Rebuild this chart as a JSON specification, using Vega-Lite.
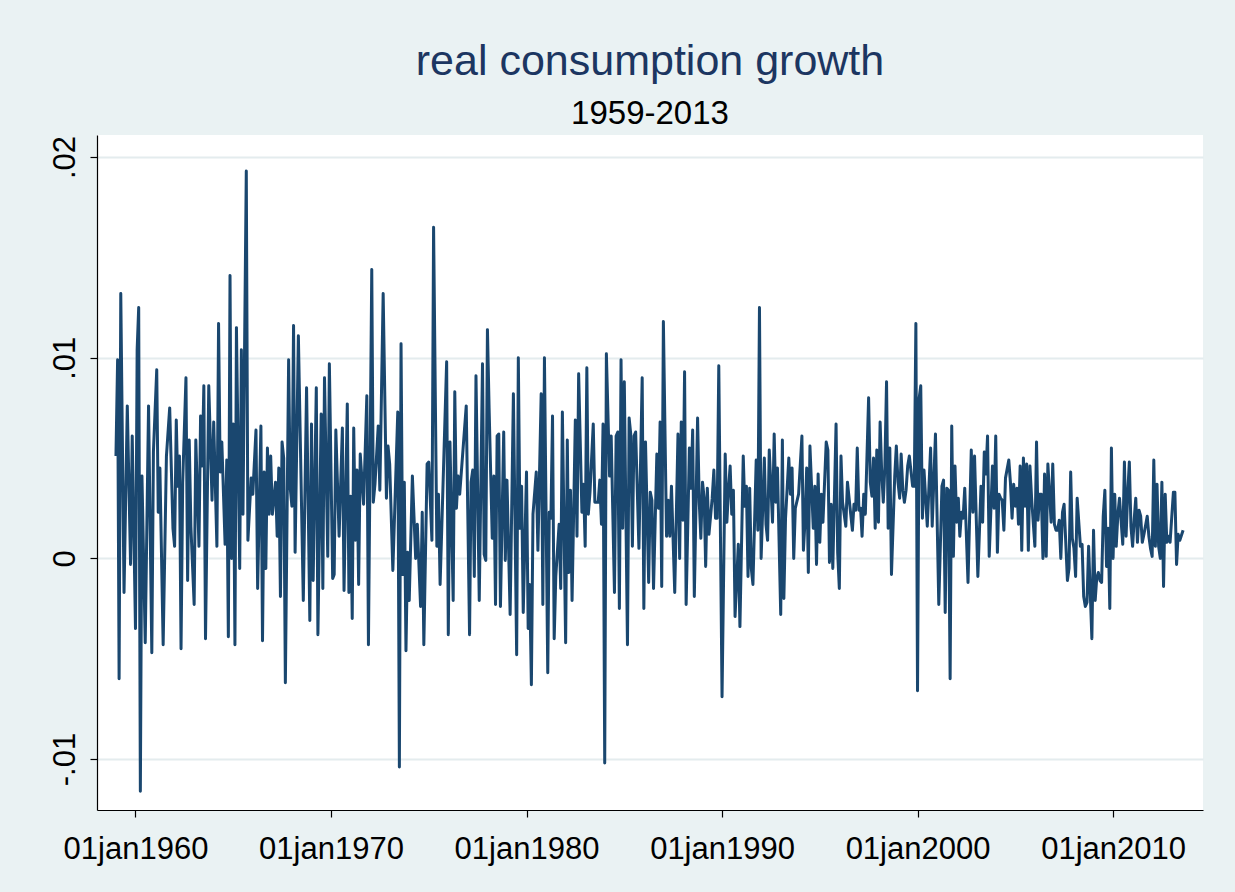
{
"$schema": "https://vega.github.io/schema/vega-lite/v6.json",
"width": 1106, "height": 675,
"autosize": "none",
"padding": {"left": 97, "top": 135, "right": 32, "bottom": 82},
"background": "#EAF2F3",
"view": {"fill": "white", "stroke": null},
"title": {"text": "real consumption growth", "subtitle": "1959-2013", "font": "Liberation Sans", "subtitleFont": "Liberation Sans", "fontSize": 43, "subtitleFontSize": 33, "fontWeight": "normal", "subtitleFontWeight": "normal", "color": "#1C3661", "subtitleColor": "#000000", "anchor": "middle", "offset": 4, "subtitlePadding": 14},
"data": {"values": [
{"d":"1959-01","v":0.0051},{"d":"1959-02","v":0.0099},{"d":"1959-03","v":-0.0060},{"d":"1959-04","v":0.0132},{"d":"1959-06","v":-0.0017},{"d":"1959-08","v":0.0076},{"d":"1959-10","v":-0.0003},{"d":"1959-11","v":0.0061},
{"d":"1960-01","v":-0.0035},{"d":"1960-02","v":0.0104},{"d":"1960-03","v":0.0125},{"d":"1960-04","v":-0.0116},{"d":"1960-05","v":0.0041},{"d":"1960-07","v":-0.0042},{"d":"1960-09","v":0.0076},{"d":"1960-11","v":-0.0047},{"d":"1960-12","v":0.0053},
{"d":"1961-02","v":0.0094},{"d":"1961-03","v":0.0023},{"d":"1961-04","v":0.0045},{"d":"1961-06","v":-0.0043},{"d":"1961-08","v":0.0051},{"d":"1961-10","v":0.0075},{"d":"1961-12","v":0.0015},
{"d":"1962-01","v":0.0006},{"d":"1962-02","v":0.0069},{"d":"1962-03","v":0.0036},{"d":"1962-04","v":0.0051},{"d":"1962-05","v":-0.0045},{"d":"1962-06","v":0.0038},{"d":"1962-08","v":0.0090},{"d":"1962-09","v":-0.0011},{"d":"1962-10","v":0.0059},{"d":"1962-11","v":0.0016},
{"d":"1963-01","v":-0.0023},{"d":"1963-02","v":0.0059},{"d":"1963-04","v":0.0006},{"d":"1963-05","v":0.0071},{"d":"1963-06","v":0.0046},{"d":"1963-07","v":0.0086},{"d":"1963-08","v":-0.0040},{"d":"1963-10","v":0.0086},{"d":"1963-12","v":0.0029},
{"d":"1964-01","v":0.0068},{"d":"1964-03","v":0.0006},{"d":"1964-04","v":0.0117},{"d":"1964-05","v":0.0043},{"d":"1964-06","v":0.0058},{"d":"1964-08","v":0.0007},{"d":"1964-09","v":0.0049},{"d":"1964-10","v":-0.0039},{"d":"1964-11","v":0.0141},{"d":"1964-12","v":0.0000},
{"d":"1965-01","v":0.0067},{"d":"1965-02","v":-0.0043},{"d":"1965-03","v":0.0115},{"d":"1965-05","v":-0.0005},{"d":"1965-06","v":0.0104},{"d":"1965-07","v":0.0022},{"d":"1965-09","v":0.0193},{"d":"1965-10","v":0.0009},{"d":"1965-12","v":0.0040},
{"d":"1966-01","v":0.0032},{"d":"1966-03","v":0.0064},{"d":"1966-04","v":-0.0015},{"d":"1966-06","v":0.0066},{"d":"1966-07","v":-0.0041},{"d":"1966-08","v":0.0043},{"d":"1966-09","v":-0.0005},{"d":"1966-10","v":0.0055},{"d":"1966-11","v":0.0022},{"d":"1966-12","v":0.0051},
{"d":"1967-01","v":0.0022},{"d":"1967-03","v":0.0038},{"d":"1967-04","v":0.0011},{"d":"1967-05","v":0.0045},{"d":"1967-06","v":-0.0019},{"d":"1967-07","v":0.0058},{"d":"1967-08","v":0.0050},{"d":"1967-09","v":-0.0062},{"d":"1967-11","v":0.0099},{"d":"1967-12","v":0.0035},
{"d":"1968-01","v":0.0026},{"d":"1968-02","v":0.0116},{"d":"1968-03","v":0.0003},{"d":"1968-05","v":0.0111},{"d":"1968-08","v":-0.0021},{"d":"1968-10","v":0.0085},{"d":"1968-12","v":-0.0031},
{"d":"1969-01","v":0.0067},{"d":"1969-02","v":-0.0011},{"d":"1969-04","v":0.0085},{"d":"1969-05","v":-0.0038},{"d":"1969-07","v":0.0072},{"d":"1969-08","v":-0.0015},{"d":"1969-09","v":0.0090},{"d":"1969-11","v":0.0001},{"d":"1969-12","v":0.0097},
{"d":"1970-02","v":-0.0010},{"d":"1970-03","v":-0.0008},{"d":"1970-04","v":0.0064},{"d":"1970-06","v":0.0011},{"d":"1970-08","v":0.0065},{"d":"1970-09","v":-0.0016},{"d":"1970-11","v":0.0077},{"d":"1970-12","v":-0.0017},
{"d":"1971-01","v":0.0031},{"d":"1971-02","v":-0.0030},{"d":"1971-03","v":0.0065},{"d":"1971-04","v":0.0009},{"d":"1971-05","v":0.0044},{"d":"1971-06","v":-0.0013},{"d":"1971-07","v":0.0052},{"d":"1971-09","v":0.0027},{"d":"1971-11","v":0.0081},{"d":"1971-12","v":-0.0043},
{"d":"1972-02","v":0.0144},{"d":"1972-03","v":0.0028},{"d":"1972-04","v":0.0037},{"d":"1972-06","v":0.0066},{"d":"1972-07","v":0.0034},{"d":"1972-09","v":0.0132},{"d":"1972-11","v":0.0030},{"d":"1972-12","v":0.0056},
{"d":"1973-01","v":0.0047},{"d":"1973-03","v":-0.0006},{"d":"1973-06","v":0.0073},{"d":"1973-07","v":-0.0104},{"d":"1973-08","v":0.0107},{"d":"1973-09","v":-0.0008},{"d":"1973-10","v":0.0038},{"d":"1973-11","v":-0.0046},{"d":"1973-12","v":0.0003},
{"d":"1974-01","v":-0.0021},{"d":"1974-03","v":0.0041},{"d":"1974-05","v":0.0000},{"d":"1974-06","v":0.0017},{"d":"1974-08","v":-0.0024},{"d":"1974-09","v":0.0023},{"d":"1974-10","v":-0.0043},{"d":"1974-12","v":0.0047},
{"d":"1975-01","v":0.0048},{"d":"1975-03","v":0.0009},{"d":"1975-04","v":0.0165},{"d":"1975-06","v":0.0006},{"d":"1975-07","v":0.0032},{"d":"1975-08","v":-0.0013},{"d":"1975-12","v":0.0098},
{"d":"1976-01","v":-0.0038},{"d":"1976-02","v":0.0058},{"d":"1976-04","v":-0.0021},{"d":"1976-05","v":0.0083},{"d":"1976-06","v":0.0025},{"d":"1976-07","v":0.0041},{"d":"1976-08","v":0.0032},{"d":"1976-12","v":0.0076},
{"d":"1977-01","v":0.0019},{"d":"1977-02","v":-0.0038},{"d":"1977-03","v":0.0038},{"d":"1977-04","v":0.0044},{"d":"1977-05","v":-0.0009},{"d":"1977-06","v":0.0091},{"d":"1977-08","v":-0.0021},{"d":"1977-10","v":0.0097},{"d":"1977-11","v":0.0002},{"d":"1977-12","v":-0.0001},
{"d":"1978-01","v":0.0114},{"d":"1978-02","v":0.0075},{"d":"1978-04","v":0.0010},{"d":"1978-05","v":0.0041},{"d":"1978-06","v":-0.0023},{"d":"1978-07","v":0.0061},{"d":"1978-08","v":0.0062},{"d":"1978-09","v":-0.0024},{"d":"1978-11","v":0.0063},{"d":"1978-12","v":-0.0001},
{"d":"1979-01","v":0.0039},{"d":"1979-03","v":-0.0028},{"d":"1979-05","v":0.0082},{"d":"1979-07","v":-0.0048},{"d":"1979-08","v":0.0100},{"d":"1979-09","v":0.0015},{"d":"1979-10","v":0.0036},{"d":"1979-11","v":-0.0027},
{"d":"1980-01","v":0.0043},{"d":"1980-02","v":-0.0035},{"d":"1980-03","v":-0.0013},{"d":"1980-04","v":-0.0063},{"d":"1980-05","v":0.0022},{"d":"1980-07","v":0.0043},{"d":"1980-08","v":0.0004},{"d":"1980-10","v":0.0082},{"d":"1980-11","v":-0.0023},{"d":"1980-12","v":0.0100},
{"d":"1981-02","v":-0.0057},{"d":"1981-03","v":0.0023},{"d":"1981-04","v":0.0020},{"d":"1981-05","v":0.0071},{"d":"1981-06","v":-0.0040},{"d":"1981-07","v":-0.0009},{"d":"1981-09","v":0.0017},{"d":"1981-10","v":-0.0015},{"d":"1981-11","v":0.0073},
{"d":"1982-01","v":-0.0042},{"d":"1982-02","v":0.0059},{"d":"1982-03","v":-0.0007},{"d":"1982-04","v":0.0034},{"d":"1982-05","v":-0.0021},{"d":"1982-07","v":0.0069},{"d":"1982-08","v":0.0011},{"d":"1982-09","v":0.0092},{"d":"1982-11","v":0.0023},{"d":"1982-12","v":0.0037},
{"d":"1983-01","v":0.0006},{"d":"1983-02","v":0.0095},{"d":"1983-03","v":0.0022},{"d":"1983-04","v":0.0033},{"d":"1983-06","v":0.0067},{"d":"1983-07","v":0.0028},{"d":"1983-09","v":0.0028},{"d":"1983-10","v":0.0039},{"d":"1983-11","v":0.0017},{"d":"1983-12","v":0.0067},
{"d":"1984-01","v":-0.0102},{"d":"1984-02","v":0.0102},{"d":"1984-04","v":0.0041},{"d":"1984-05","v":0.0061},{"d":"1984-07","v":-0.0017},{"d":"1984-08","v":0.0061},{"d":"1984-09","v":0.0063},{"d":"1984-10","v":-0.0025},{"d":"1984-11","v":0.0099},{"d":"1984-12","v":0.0015},
{"d":"1985-01","v":0.0088},{"d":"1985-03","v":-0.0043},{"d":"1985-04","v":0.0070},{"d":"1985-05","v":0.0062},{"d":"1985-06","v":0.0006},{"d":"1985-07","v":0.0061},{"d":"1985-08","v":0.0063},{"d":"1985-10","v":0.0005},{"d":"1985-12","v":0.0090},
{"d":"1986-01","v":-0.0025},{"d":"1986-02","v":0.0058},{"d":"1986-04","v":-0.0012},{"d":"1986-05","v":0.0033},{"d":"1986-06","v":0.0029},{"d":"1986-07","v":-0.0015},{"d":"1986-09","v":0.0052},{"d":"1986-10","v":0.0025},{"d":"1986-11","v":0.0068},{"d":"1986-12","v":-0.0014},
{"d":"1987-01","v":0.0118},{"d":"1987-03","v":0.0011},{"d":"1987-04","v":0.0029},{"d":"1987-05","v":0.0011},{"d":"1987-06","v":0.0036},{"d":"1987-08","v":-0.0017},{"d":"1987-10","v":0.0062},{"d":"1987-11","v":0.0000},{"d":"1987-12","v":0.0068},
{"d":"1988-01","v":0.0019},{"d":"1988-02","v":0.0093},{"d":"1988-03","v":-0.0023},{"d":"1988-05","v":0.0055},{"d":"1988-06","v":0.0035},{"d":"1988-07","v":0.0064},{"d":"1988-08","v":-0.0019},{"d":"1988-10","v":0.0070},{"d":"1988-11","v":0.0028},{"d":"1988-12","v":0.0010},
{"d":"1989-01","v":0.0038},{"d":"1989-02","v":0.0030},{"d":"1989-03","v":-0.0004},{"d":"1989-04","v":0.0035},{"d":"1989-05","v":0.0012},{"d":"1989-07","v":0.0030},{"d":"1989-08","v":0.0044},{"d":"1989-09","v":0.0020},{"d":"1989-10","v":0.0020},{"d":"1989-11","v":0.0096},
{"d":"1990-01","v":-0.0069},{"d":"1990-03","v":0.0052},{"d":"1990-04","v":0.0018},{"d":"1990-05","v":0.0034},{"d":"1990-06","v":0.0046},{"d":"1990-07","v":0.0022},{"d":"1990-08","v":0.0034},{"d":"1990-09","v":-0.0029},{"d":"1990-11","v":0.0007},{"d":"1990-12","v":-0.0034},
{"d":"1991-02","v":0.0051},{"d":"1991-03","v":0.0026},{"d":"1991-04","v":0.0036},{"d":"1991-05","v":-0.0009},{"d":"1991-06","v":0.0035},{"d":"1991-07","v":-0.0005},{"d":"1991-08","v":-0.0013},{"d":"1991-10","v":0.0049},{"d":"1991-11","v":0.0014},{"d":"1991-12","v":0.0125},
{"d":"1992-01","v":0.0000},{"d":"1992-03","v":0.0050},{"d":"1992-04","v":0.0017},{"d":"1992-05","v":0.0009},{"d":"1992-06","v":0.0054},{"d":"1992-08","v":0.0018},{"d":"1992-09","v":0.0062},{"d":"1992-10","v":0.0028},{"d":"1992-11","v":0.0045},
{"d":"1993-01","v":-0.0028},{"d":"1993-02","v":0.0059},{"d":"1993-03","v":-0.0020},{"d":"1993-04","v":0.0020},{"d":"1993-06","v":0.0050},{"d":"1993-07","v":0.0032},{"d":"1993-08","v":0.0045},{"d":"1993-09","v":0.0000},{"d":"1993-10","v":0.0025},{"d":"1993-12","v":0.0032},
{"d":"1994-02","v":0.0061},{"d":"1994-03","v":0.0004},{"d":"1994-04","v":0.0019},{"d":"1994-05","v":0.0045},{"d":"1994-06","v":-0.0007},{"d":"1994-07","v":0.0056},{"d":"1994-09","v":0.0015},{"d":"1994-10","v":0.0036},{"d":"1994-11","v":-0.0003},{"d":"1994-12","v":0.0042},
{"d":"1995-01","v":0.0008},{"d":"1995-02","v":0.0032},{"d":"1995-03","v":0.0018},{"d":"1995-05","v":0.0058},{"d":"1995-06","v":0.0054},{"d":"1995-07","v":-0.0002},{"d":"1995-08","v":0.0027},{"d":"1995-09","v":-0.0005},{"d":"1995-11","v":0.0067},{"d":"1995-12","v":0.0003},
{"d":"1996-01","v":-0.0015},{"d":"1996-02","v":0.0051},{"d":"1996-03","v":0.0028},{"d":"1996-05","v":0.0016},{"d":"1996-06","v":0.0038},{"d":"1996-08","v":0.0022},{"d":"1996-09","v":0.0014},{"d":"1996-10","v":0.0027},{"d":"1996-11","v":0.0024},{"d":"1996-12","v":0.0055},
{"d":"1997-01","v":0.0024},{"d":"1997-02","v":0.0025},{"d":"1997-03","v":0.0011},{"d":"1997-04","v":0.0032},{"d":"1997-05","v":0.0022},{"d":"1997-07","v":0.0080},{"d":"1997-08","v":0.0038},{"d":"1997-09","v":0.0031},{"d":"1997-10","v":0.0050},{"d":"1997-11","v":0.0015},{"d":"1997-12","v":0.0054},
{"d":"1998-01","v":0.0018},{"d":"1998-02","v":0.0068},{"d":"1998-03","v":0.0044},{"d":"1998-04","v":0.0028},{"d":"1998-05","v":0.0046},{"d":"1998-06","v":0.0088},{"d":"1998-07","v":0.0015},{"d":"1998-08","v":0.0055},{"d":"1998-09","v":-0.0008},{"d":"1998-11","v":0.0041},{"d":"1998-12","v":0.0056},
{"d":"1999-01","v":0.0038},{"d":"1999-02","v":0.0030},{"d":"1999-03","v":0.0052},{"d":"1999-04","v":0.0034},{"d":"1999-05","v":0.0028},{"d":"1999-06","v":0.0034},{"d":"1999-07","v":0.0046},{"d":"1999-08","v":0.0051},{"d":"1999-10","v":0.0036},{"d":"1999-11","v":0.0036},{"d":"1999-12","v":0.0117},
{"d":"2000-01","v":-0.0066},{"d":"2000-02","v":0.0080},{"d":"2000-03","v":0.0086},{"d":"2000-04","v":0.0020},{"d":"2000-05","v":0.0044},{"d":"2000-07","v":0.0016},{"d":"2000-09","v":0.0055},{"d":"2000-10","v":0.0016},{"d":"2000-12","v":0.0062},
{"d":"2001-02","v":-0.0023},{"d":"2001-04","v":0.0036},{"d":"2001-05","v":0.0039},{"d":"2001-06","v":-0.0027},{"d":"2001-07","v":0.0035},{"d":"2001-08","v":0.0034},{"d":"2001-09","v":-0.0060},{"d":"2001-10","v":0.0066},{"d":"2001-11","v":0.0001},{"d":"2001-12","v":0.0046},
{"d":"2002-01","v":0.0018},{"d":"2002-02","v":0.0030},{"d":"2002-03","v":0.0011},{"d":"2002-04","v":0.0023},{"d":"2002-05","v":0.0020},{"d":"2002-06","v":0.0035},{"d":"2002-08","v":-0.0012},{"d":"2002-10","v":0.0054},{"d":"2002-11","v":0.0023},{"d":"2002-12","v":0.0051},
{"d":"2003-02","v":-0.0009},{"d":"2003-04","v":0.0036},{"d":"2003-05","v":0.0018},{"d":"2003-06","v":0.0053},{"d":"2003-07","v":0.0042},{"d":"2003-08","v":0.0061},{"d":"2003-09","v":0.0001},{"d":"2003-11","v":0.0046},{"d":"2003-12","v":0.0025},
{"d":"2004-01","v":0.0061},{"d":"2004-02","v":0.0003},{"d":"2004-03","v":0.0032},{"d":"2004-04","v":0.0030},{"d":"2004-05","v":0.0029},{"d":"2004-06","v":0.0014},{"d":"2004-07","v":0.0040},{"d":"2004-09","v":0.0049},{"d":"2004-10","v":0.0038},{"d":"2004-11","v":0.0020},{"d":"2004-12","v":0.0037},
{"d":"2005-01","v":0.0026},{"d":"2005-02","v":0.0035},{"d":"2005-03","v":0.0017},{"d":"2005-04","v":0.0046},{"d":"2005-05","v":0.0004},{"d":"2005-06","v":0.0050},{"d":"2005-07","v":0.0026},{"d":"2005-08","v":0.0047},{"d":"2005-09","v":0.0004},{"d":"2005-10","v":0.0046},{"d":"2005-11","v":0.0030},
{"d":"2006-01","v":0.0006},{"d":"2006-02","v":0.0058},{"d":"2006-03","v":0.0019},{"d":"2006-04","v":0.0032},{"d":"2006-05","v":0.0032},{"d":"2006-06","v":0.0000},{"d":"2006-07","v":0.0042},{"d":"2006-08","v":0.0001},{"d":"2006-09","v":0.0047},{"d":"2006-11","v":0.0018},{"d":"2006-12","v":0.0047},
{"d":"2007-01","v":0.0017},{"d":"2007-02","v":0.0014},{"d":"2007-03","v":0.0014},{"d":"2007-04","v":0.0019},{"d":"2007-05","v":0.0000},{"d":"2007-06","v":0.0023},{"d":"2007-07","v":0.0027},{"d":"2007-09","v":-0.0011},{"d":"2007-10","v":-0.0005},{"d":"2007-11","v":0.0043},{"d":"2007-12","v":0.0010},
{"d":"2008-01","v":0.0005},{"d":"2008-02","v":-0.0009},{"d":"2008-03","v":0.0030},{"d":"2008-05","v":0.0006},{"d":"2008-06","v":0.0007},{"d":"2008-07","v":-0.0019},{"d":"2008-08","v":-0.0024},{"d":"2008-09","v":-0.0022},{"d":"2008-10","v":0.0006},{"d":"2008-12","v":-0.0040},
{"d":"2009-01","v":0.0014},{"d":"2009-02","v":-0.0021},{"d":"2009-03","v":-0.0010},{"d":"2009-04","v":-0.0007},{"d":"2009-05","v":-0.0011},{"d":"2009-06","v":-0.0012},{"d":"2009-07","v":0.0021},{"d":"2009-08","v":0.0034},{"d":"2009-09","v":-0.0004},{"d":"2009-10","v":0.0015},{"d":"2009-11","v":-0.0025},{"d":"2009-12","v":0.0055},
{"d":"2010-01","v":0.0000},{"d":"2010-02","v":0.0032},{"d":"2010-03","v":0.0006},{"d":"2010-04","v":0.0022},{"d":"2010-05","v":0.0030},{"d":"2010-07","v":0.0007},{"d":"2010-08","v":0.0048},{"d":"2010-09","v":0.0011},{"d":"2010-10","v":0.0032},{"d":"2010-11","v":0.0048},{"d":"2010-12","v":0.0016},
{"d":"2011-01","v":0.0006},{"d":"2011-02","v":0.0020},{"d":"2011-03","v":0.0030},{"d":"2011-04","v":0.0008},{"d":"2011-05","v":0.0024},{"d":"2011-06","v":0.0021},{"d":"2011-07","v":0.0008},{"d":"2011-08","v":0.0012},{"d":"2011-10","v":0.0021},{"d":"2011-11","v":0.0011},{"d":"2011-12","v":0.0005},
{"d":"2012-01","v":0.0001},{"d":"2012-02","v":0.0049},{"d":"2012-03","v":0.0006},{"d":"2012-04","v":0.0037},{"d":"2012-05","v":0.0006},{"d":"2012-06","v":0.0000},{"d":"2012-07","v":0.0038},{"d":"2012-08","v":-0.0014},{"d":"2012-09","v":0.0032},{"d":"2012-10","v":0.0008},{"d":"2012-11","v":0.0011},{"d":"2012-12","v":0.0008},
{"d":"2013-02","v":0.0033},{"d":"2013-03","v":0.0033},{"d":"2013-04","v":-0.0003},{"d":"2013-05","v":0.0012},{"d":"2013-06","v":0.0009},{"d":"2013-08","v":0.0014}
]},
"mark": {"type": "line", "color": "#1A476F", "strokeWidth": 3, "strokeJoin": "round"},
"encoding": {
  "x": {"field": "d", "type": "temporal",
    "scale": {"type": "utc", "domain": [{"year": 1958, "month": 1, "date": 12, "utc": true}, {"year": 2014, "month": 8, "date": 8, "utc": true}]},
    "axis": {"title": null, "values": [{"year": 1960, "month": 1, "date": 1, "utc": true}, {"year": 1970, "month": 1, "date": 1, "utc": true}, {"year": 1980, "month": 1, "date": 1, "utc": true}, {"year": 1990, "month": 1, "date": 1, "utc": true}, {"year": 2000, "month": 1, "date": 1, "utc": true}, {"year": 2010, "month": 1, "date": 1, "utc": true}],
      "labelExpr": "'01jan' + utcFormat(datum.value, '%Y')", "labelFont": "Liberation Sans", "labelFontSize": 31, "labelColor": "#000000", "labelPadding": 17, "labelFlush": false, "labelOverlap": false,
      "grid": false, "domainColor": "#000000", "domainWidth": 1.2, "tickColor": "#000000", "tickWidth": 1.2, "tickSize": 7}},
  "y": {"field": "v", "type": "quantitative",
    "scale": {"domain": [-0.01254, 0.0211], "nice": false, "zero": false},
    "axis": {"title": null, "values": [-0.01, 0, 0.01, 0.02],
      "labelExpr": "datum.value > 0.015 ? '.02' : datum.value > 0.005 ? '.01' : datum.value > -0.005 ? '0' : '-.01'",
      "labelAngle": 270, "labelFont": "Liberation Sans", "labelFontSize": 31, "labelColor": "#000000", "labelPadding": 9,
      "grid": true, "gridColor": "#E4ECEE", "gridWidth": 2, "domainColor": "#000000", "domainWidth": 1.2, "tickColor": "#000000", "tickWidth": 1.2, "tickSize": 7}}
}
}
